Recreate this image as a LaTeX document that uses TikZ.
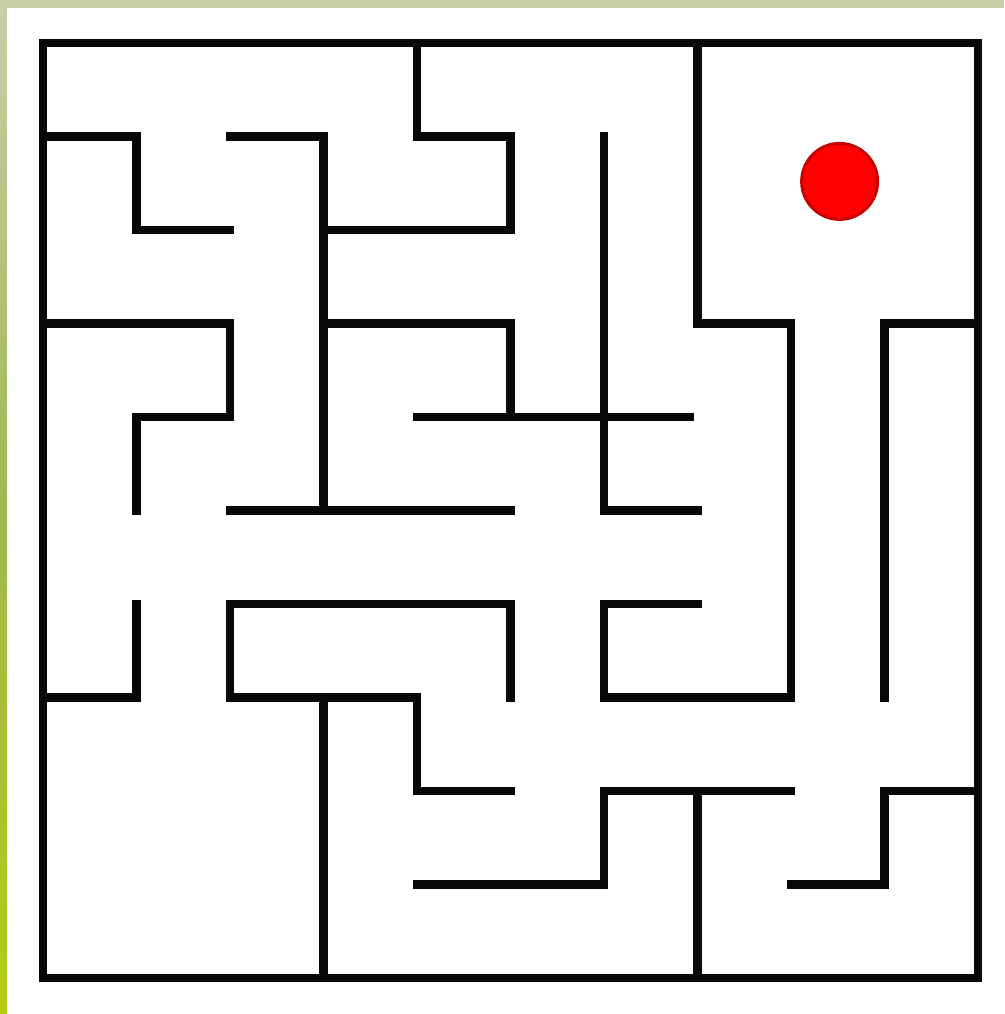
\documentclass[tikz,border=0pt]{standalone}
\begin{document}
\begin{tikzpicture}[x=1pt,y=-1pt,
  wall/.style={line width=8.5pt, line cap=rect, line join=miter, draw=black!97},
  ballstyle/.style={circle, fill=red, draw={rgb,255:red,200;green,0;blue,0}, line width=3pt, minimum size=76pt, inner sep=0pt}]
\definecolor{leafA}{RGB}{200,206,168}
\definecolor{leafB}{RGB}{160,184,80}
\definecolor{leafC}{RGB}{180,204,20}
\useasboundingbox (0,0) rectangle (1004,1014);
% background leaves
\fill[leafA] (0,0) rectangle (1004,1014);
\shade[top color=leafA, bottom color=leafC, middle color=leafB] (0,0) rectangle (8,1014);
\fill[white] (7,8) rectangle (1004,1014);
% maze
\begin{scope}[shift={(43,43)}, x=93.5pt, y=-93.5pt]
\draw[wall] (0,0) rectangle (10,10);
\draw[wall] (0,1) -- (1,1) -- (1,2) -- (2,2);
\draw[wall] (2,1) -- (3,1) -- (3,5);
\draw[wall] (2,5) -- (5,5);
\draw[wall] (4,0) -- (4,1) -- (5,1) -- (5,2) -- (3,2);
\draw[wall] (0,3) -- (2,3) -- (2,4) -- (1,4) -- (1,5);
\draw[wall] (3,3) -- (5,3) -- (5,4);
\draw[wall] (4,4) -- (6.92,4);
\draw[wall] (6,1) -- (6,5) -- (7,5);
\draw[wall] (7,0) -- (7,3) -- (8,3) -- (8,7) -- (6,7) -- (6,6) -- (7,6);
\draw[wall] (10,3) -- (9,3) -- (9,7);
\draw[wall] (1,6) -- (1,7) -- (0,7);
\draw[wall] (5,7) -- (5,6) -- (2,6) -- (2,7) -- (4,7) -- (4,8) -- (5,8);
\draw[wall] (3,7) -- (3,10);
\draw[wall] (4,9) -- (6,9) -- (6,8) -- (8,8);
\draw[wall] (7,8) -- (7,10);
\draw[wall] (10,8) -- (9,8) -- (9,9) -- (8,9);
\node[ballstyle] (ball) at (8.52,1.48) {};
\end{scope}
\end{tikzpicture}
\end{document}
